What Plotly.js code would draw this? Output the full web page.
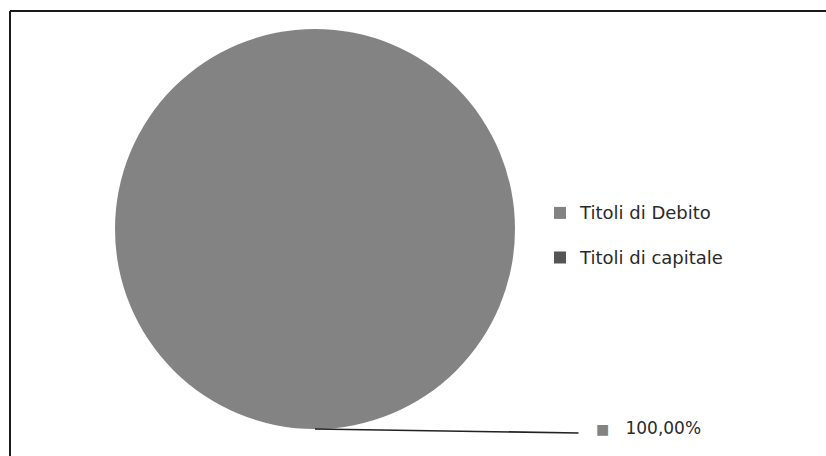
<!DOCTYPE html>
<html>
<head>
<meta charset="utf-8">
<script src="https://cdn.plot.ly/plotly-3.0.1.min.js"></script>
<style>html,body{margin:0;padding:0;background:#fff;}#chart{width:826px;height:456px;}</style>
</head>
<body>
<div id="chart"></div>
<script>
const labels = ['Titoli di Debito', 'Titoli di capitale'];
const values = [100, 0];
const colors = ['#838383', '#555555'];

const W = 826, H = 456;
const domX = [115 / W, 515 / W];
const domY = [1 - 429 / H, 1 - 29 / H];

const total = values.reduce((a, b) => a + b, 0);
const pctText = (values[0] / total * 100).toFixed(2).replace('.', ',') + '%';

const trace = {
  type: 'pie',
  labels: labels.map(l => '<span style="font-size:18px">' + l + '</span><br> '),
  values: values,
  marker: { colors: colors, line: { width: 0 } },
  textinfo: 'none',
  hoverinfo: 'skip',
  sort: false,
  direction: 'clockwise',
  rotation: 0,
  domain: { x: domX, y: domY }
};

const cx = (domX[0] + domX[1]) / 2;
const font = { family: 'DejaVu Sans', size: 17, color: '#2a2a2a' };

const layout = {
  width: W, height: H,
  margin: { l: 0, r: 0, t: 0, b: 0 },
  paper_bgcolor: '#ffffff',
  showlegend: true,
  legend: {
    x: 540 / W, y: 1 - 196 / H, xanchor: 'left', yanchor: 'top',
    font: { family: 'DejaVu Sans', size: 16, color: '#2a2a2a' },
    valign: 'top', bgcolor: 'rgba(0,0,0,0)'
  },
  annotations: [
    {
      xref: 'paper', yref: 'paper', x: cx, y: domY[0],
      text: '', showarrow: true, arrowhead: 0, arrowwidth: 1.6, arrowcolor: '#222222',
      axref: 'pixel', ayref: 'pixel', ax: 265, ay: 4, standoff: 0
    },
    {
      xref: 'paper', yref: 'paper', x: 594 / W, y: 1 - 428 / H,
      xanchor: 'left', yanchor: 'middle', showarrow: false,
      text: '<span style="color:#838383;font-size:14px">■</span>\u00a0\u00a0\u00a0' + pctText,
      font: font
    }
  ],
  shapes: [
    { type: 'line', xref: 'paper', yref: 'paper', x0: 10 / W, x1: 1, y0: 1 - 11 / H, y1: 1 - 11 / H,
      line: { color: '#1a1a1a', width: 2 } },
    { type: 'line', xref: 'paper', yref: 'paper', x0: 10 / W, x1: 10 / W, y0: 0, y1: 1 - 11 / H,
      line: { color: '#1a1a1a', width: 2 } }
  ]
};

Plotly.newPlot('chart', [trace], layout, { displayModeBar: false, staticPlot: true });
</script>
</body>
</html>
